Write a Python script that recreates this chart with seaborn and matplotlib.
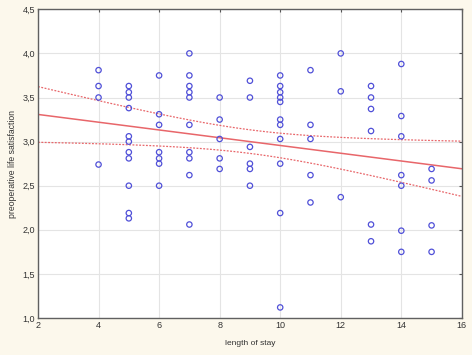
import numpy as np
import pandas as pd
import matplotlib
matplotlib.use('Agg')
import matplotlib.pyplot as plt
import seaborn as sns

#---------------------------------------------------
# data, grouped by length of stay
stay_4 = [3.81, 3.63, 3.50, 2.74]
stay_5 = [3.63, 3.56, 3.50, 3.38, 3.06, 3.00, 2.88, 2.81, 2.50, 2.19, 2.13]
stay_6 = [3.75, 3.31, 3.19, 2.88, 2.81, 2.75, 2.50]
stay_7 = [4.00, 3.75, 3.63, 3.56, 3.50, 3.19, 2.88, 2.81, 2.62, 2.06]
stay_8 = [3.50, 3.25, 3.03, 2.81, 2.69]
stay_9 = [3.69, 3.50, 2.94, 2.75, 2.69, 2.50]
stay_10 = [3.75, 3.63, 3.56, 3.50, 3.45, 3.25, 3.19, 3.03, 2.75, 2.19, 1.12]
stay_11 = [3.81, 3.19, 3.03, 2.62, 2.31]
stay_12 = [4.00, 3.57, 2.37]
stay_13 = [3.63, 3.50, 3.37, 3.12, 2.06, 1.87]
stay_14 = [3.88, 3.29, 3.06, 2.62, 2.50, 1.99, 1.75]
stay_15 = [2.69, 2.56, 2.05, 1.75]

d_stay = {4: stay_4, 5: stay_5, 6: stay_6, 7: stay_7, 8: stay_8, 9: stay_9,
	10: stay_10, 11: stay_11, 12: stay_12, 13: stay_13, 14: stay_14, 15: stay_15}

x_ticks = [2, 4, 6, 8, 10, 12, 14, 16]
y_ticks = [1.0, 1.5, 2.0, 2.5, 3.0, 3.5, 4.0, 4.5]
x_lbl = 'length of stay'
y_lbl = 'preoperative life satisfaction'

c_pt = '#5050d8'
c_line = '#e8666a'
c_bg = '#fcf8ec'

#---------------------------------------------------
l_data = []
for k, l_v in d_stay.items():
	for v in l_v:
		l_data.append((k, v))
df = pd.DataFrame(l_data, columns=['stay', 'sat'])

#---------------------------------------------------
# 95% confidence band of the OLS fit
def ci_band(x, y, xs, t=1.991):
	n = len(x)
	b1, b0 = np.polyfit(x, y, 1)
	res = y - (b0 + b1*x)
	s = np.sqrt((res**2).sum()/(n-2))
	sxx = ((x - x.mean())**2).sum()
	yh = b0 + b1*xs
	se = s*np.sqrt(1/n + (xs - x.mean())**2/sxx)
	return yh - t*se, yh + t*se

#---------------------------------------------------
sns.set_style('white')
plt.rcParams['font.family'] = ['Liberation Sans', 'DejaVu Sans']

fig = plt.figure(figsize=(4.72, 3.55), dpi=100, facecolor=c_bg)
ax = fig.add_axes([0.0805, 0.1042, 0.898, 0.8696])
ax.set_facecolor('white')
ax.set_xlim(2, 16)
ax.set_ylim(1.0, 4.5)
ax.grid(True, color='#e4e4e4', lw=0.8)
ax.set_axisbelow(True)

sns.regplot(data=df, x='stay', y='sat', scatter=False, ci=None, truncate=False,
	line_kws=dict(color=c_line, lw=1.1), ax=ax)

xs = np.linspace(2, 16, 100)
lo, hi = ci_band(df['stay'].values.astype(float), df['sat'].values, xs)
ax.plot(xs, lo, color=c_line, lw=0.9, ls=(0, (1.5, 1.2)))
ax.plot(xs, hi, color=c_line, lw=0.9, ls=(0, (1.5, 1.2)))

sns.scatterplot(data=df, x='stay', y='sat', marker='o', s=15,
	facecolor='none', edgecolor=c_pt, linewidth=0.9, ax=ax, zorder=3)

#adjust
ax.set_xticks(x_ticks)
ax.set_yticks(y_ticks)
ax.set_xticklabels([str(v) for v in x_ticks])
ax.set_yticklabels([f'{v:.1f}'.replace('.', ',') for v in y_ticks])
ax.tick_params(direction='in', length=2.5, width=0.8, colors='#555555',
	labelsize=6.5, labelcolor='#333333', top=True, right=True, pad=2)
for sp in ax.spines.values():
	sp.set_color('#606060')
	sp.set_linewidth(1.0)
ax.set_xlabel(x_lbl, fontsize=6, color='#333333', labelpad=7)
ax.set_ylabel(y_lbl, fontsize=6.2, color='#333333', labelpad=4)

plt.savefig('out.png', dpi=100, facecolor=c_bg)
plt.close()
